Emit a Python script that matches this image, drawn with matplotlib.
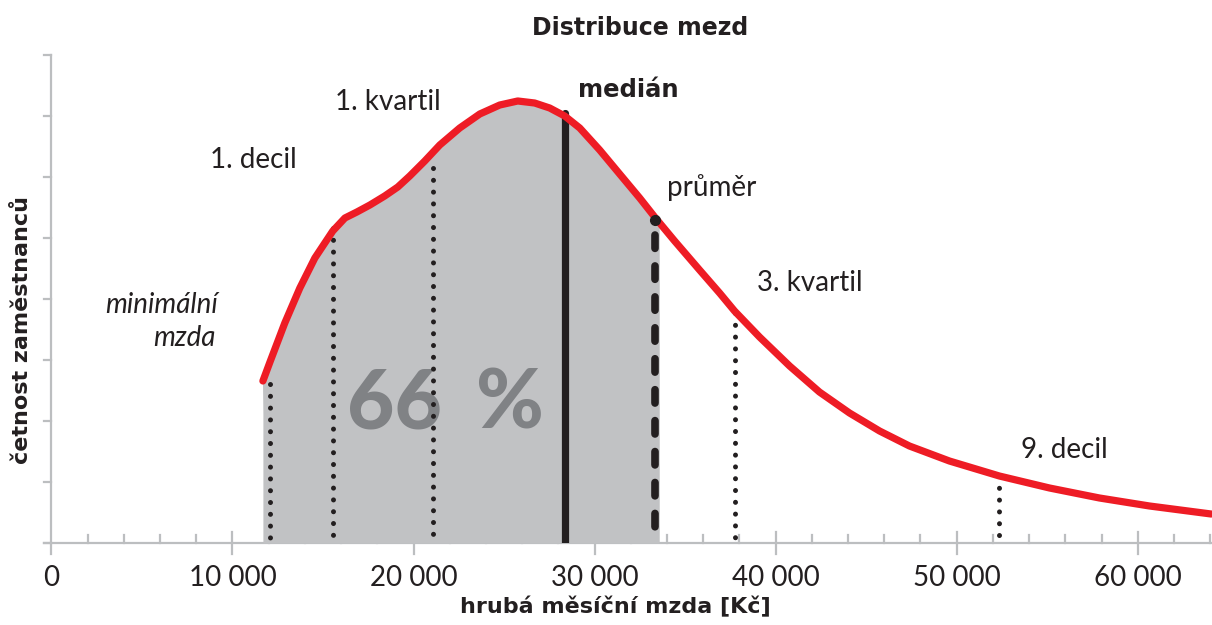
import matplotlib
matplotlib.use("Agg")
import matplotlib.pyplot as plt
import numpy as np

# ---- data ----
wage = [11680, 12070, 12890, 13720, 14550, 15540, 16210, 16870, 17590, 18410, 19130, 19790,
        20620, 21450, 22550, 23660, 24760, 25755, 26690, 27520, 28350, 29180, 30280, 31385,
        32490, 33320, 34420, 35800, 36905, 37730, 39110, 40770, 42420, 44080, 45740, 47390,
        49600, 52360, 55120, 57880, 60640, 64060]
freq = [2.656, 2.967, 3.607, 4.180, 4.672, 5.115, 5.328, 5.426, 5.541, 5.689, 5.836, 6.016,
        6.262, 6.525, 6.803, 7.033, 7.180, 7.246, 7.213, 7.131, 7.000, 6.803, 6.443, 6.049,
        5.656, 5.344, 4.951, 4.475, 4.098, 3.803, 3.377, 2.902, 2.475, 2.131, 1.836, 1.590,
        1.344, 1.098, 0.902, 0.738, 0.607, 0.475]

min_wage, min_wage_top = 12070, 2.60
decile1, decile1_top = 15540, 5.16
quartile1, quartile1_top = 21060, 6.15
median, median_top = 28350, 7.05
mean, mean_top = 33320, 5.30
quartile3, quartile3_top = 37730, 3.77
decile9, decile9_top = 52360, 1.10

share_text = "66 %"
x_ticks = [0, 10000, 20000, 30000, 40000, 50000, 60000]
x_ticklabels = ["0", "10 000", "20 000", "30 000", "40 000", "50 000", "60 000"]
minor_ticks = [v for v in range(0, 64001, 2000) if v % 10000 != 0]
y_ticks = [0, 1, 2, 3, 4, 5, 6, 7, 8]

RED = "#ee1c25"
GRAY_FILL = "#c1c2c4"
DARK = "#231f20"
AXIS = "#bcbec0"
PCT = "#808285"

plt.rcParams['font.family'] = ['Lato', 'DejaVu Sans']
BOLD = ['DejaVu Sans']

W, H = 1212, 625
fig = plt.figure(figsize=(W / 100, H / 100), dpi=100)
ax_left, ax_right, ax_bottom, ax_top = 44, 1212, 543, 55
ax = fig.add_axes([ax_left / W, (H - ax_bottom) / H, (ax_right - ax_left) / W, (ax_bottom - ax_top) / H])
ax.set_xlim(-410, 64100)
ax.set_ylim(0, 8)
ax.axis("off")

wage_a = np.array(wage, dtype=float)
freq_a = np.array(freq, dtype=float)

# gray fill under curve up to the mean
mask = wage_a <= mean
ax.fill_between(np.concatenate([wage_a[mask], [mean + 250]]), 0,
                np.concatenate([freq_a[mask], [mean_top]]), color=GRAY_FILL, lw=0, zorder=1)
ax.fill([wage_a[0], wage_a[0] + 300, wage_a[0] + 300], [freq_a[0], 0, freq_a[0]],
        color=GRAY_FILL, lw=0, zorder=1)

# axes lines and ticks
ax.plot([-410, 64100], [0, 0], color=AXIS, lw=1.6, zorder=0.5, clip_on=False)
ax.plot([0, 0], [0, 8], color=AXIS, lw=1.6, zorder=0.5, clip_on=False)
for t in y_ticks:
    ax.plot([-410, 0], [t, t], color=AXIS, lw=1.6, zorder=0.5, clip_on=False)
for t in x_ticks:
    ax.plot([t, t], [-0.18, 0.0 if t == 0 else 0.18], color=AXIS, lw=1.6, zorder=0.5, clip_on=False)
for t in minor_ticks:
    ax.plot([t, t], [0, 0.13], color=AXIS, lw=1.6, zorder=0.5, clip_on=False)

# percentile lines
dot_style = dict(color=DARK, lw=3.6, linestyle=(0, (0.01, 2.35)), dash_capstyle="round", zorder=3)
for xv, top in [(min_wage, min_wage_top), (decile1, decile1_top), (quartile1, quartile1_top),
                (quartile3, quartile3_top), (decile9, decile9_top)]:
    ax.plot([xv, xv], [top, 0.03], **dot_style)

ax.plot([median, median], [median_top, 0], color=DARK, lw=5.2, solid_capstyle="round", zorder=3)
ax.plot([mean, mean], [mean_top - 0.25, 0.05], color=DARK, lw=5.5,
        linestyle=(0, (1.75, 2.3)), dash_capstyle="round", zorder=3)
ax.plot([mean], [mean_top], "o", color=DARK, ms=7, zorder=6)

# red curve
ax.plot(wage_a, freq_a, color=RED, lw=5.2, solid_capstyle="round", solid_joinstyle="round",
        zorder=5, clip_on=False)

# big share text
num, pct = share_text.split()
ax.text(18970, 2.26, num, fontsize=59, fontweight="black", color=PCT, ha="center", va="center", zorder=2)
ax.text(25310, 2.26, pct, fontsize=59, fontweight="black", color=PCT, ha="center", va="center", zorder=2)

lab = dict(fontsize=20, color=DARK)
ax.text(8754, 6.28, "1. decil", ha="left", va="center", **lab)
ax.text(15654, 7.23, "1. kvartil", ha="left", va="center", **lab)
ax.text(29066, 7.43, "medián", ha="left", va="center", fontsize=17.5, color=DARK,
        fontweight="bold", family=BOLD)
ax.text(34024, 5.82, "průměr", ha="left", va="center", **lab)
ax.text(38948, 4.26, "3. kvartil", ha="left", va="center", **lab)
ax.text(53573, 1.52, "9. decil", ha="left", va="center", **lab)
ax.text(9195, 3.90, "minimální", ha="right", va="center", style="italic", **lab)
ax.text(9085, 3.36, "mzda", ha="right", va="center", style="italic", **lab)

for t, s in zip(x_ticks, x_ticklabels):
    ax.text(t, -0.58, s, ha="center", va="center", fontsize=20, color=DARK)

fig.text(640 / W, 1 - 28 / H, "Distribuce mezd", ha="center", va="center",
         fontsize=17, fontweight="bold", color=DARK, family=BOLD)
fig.text(615 / W, 1 - 607 / H, "hrubá měsíční mzda [Kč]", ha="center", va="center",
         fontsize=16, fontweight="bold", color=DARK, family=BOLD)
fig.text(22 / W, 1 - 330 / H, "četnost zaměstnanců", ha="center", va="center", rotation=90,
         fontsize=16, fontweight="bold", color=DARK, family=BOLD)

fig.savefig("out.png", dpi=100, facecolor="white")
